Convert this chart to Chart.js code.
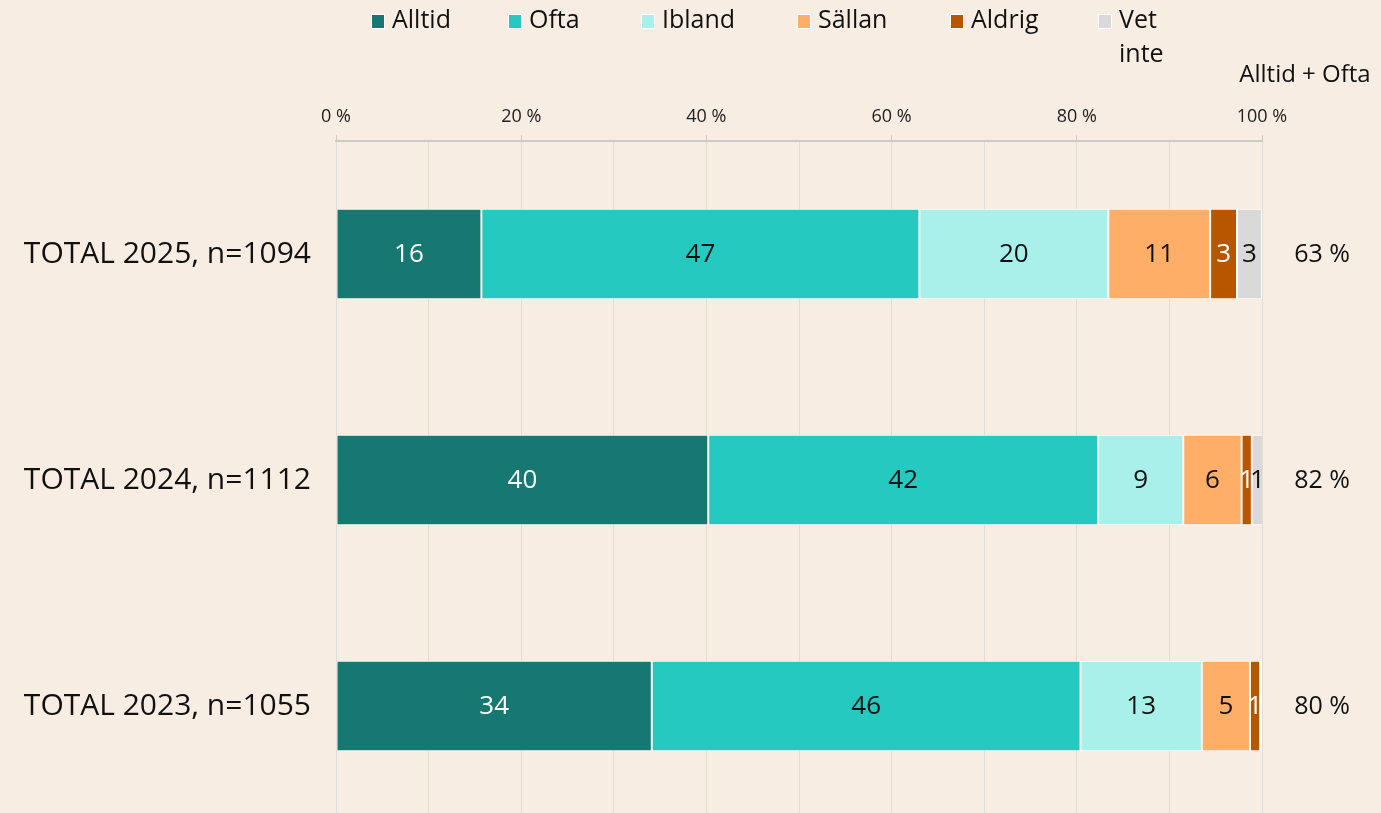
<!DOCTYPE html>
<html><head><meta charset="utf-8">
<script src="https://cdn.jsdelivr.net/npm/chart.js@4/dist/chart.umd.min.js"></script>
<style>html,body{margin:0;padding:0;background:#f8ede3;overflow:hidden}
canvas{display:block}</style></head>
<body><canvas id="c" width="1381" height="819"></canvas>
<script>
const categories = ['TOTAL 2025, n=1094','TOTAL 2024, n=1112','TOTAL 2023, n=1055'];
const seriesNames = ['Alltid','Ofta','Ibland','Sällan','Aldrig','Vet inte'];
const alltid  = [15.7, 40.2, 34.1];
const ofta    = [47.3, 42.1, 46.3];
const ibland  = [20.4, 9.2, 13.1];
const sallan  = [11.0, 6.3, 5.2];
const aldrig  = [2.9, 1.1, 1.1];
const vetInte = [2.7, 1.2, 0.2];
const alltidPlusOfta = [63, 82, 80];
const sumHeader = 'Alltid + Ofta';
const legendLines = [['Alltid'],['Ofta'],['Ibland'],['Sällan'],['Aldrig'],['Vet','inte']];

const FONT = "'Open Sans', sans-serif";
const BG = '#f8ede3';
const colors = ['#167870','#26c9c0','#aaf0ea','#feae66','#b85600','#d9d9d9'];
const labelColors = ['#ffffff','#111111','#111111','#111111','#ffffff','#111111'];
const seriesData = [alltid, ofta, ibland, sallan, aldrig, vetInte];

const datasets = seriesNames.map((n,i)=>({
  label:n, data:seriesData[i], backgroundColor:colors[i],
  borderColor:'#ffffff', borderWidth:1, borderSkipped:false,
  categoryPercentage:1, barPercentage:0.4
}));

const bgPlugin = {id:'bg', beforeDraw(chart){const c=chart.ctx;c.save();c.fillStyle=BG;c.fillRect(0,0,chart.width,chart.height);c.restore();}};

const valuePlugin = {id:'vals', afterDatasetsDraw(chart){
  const c=chart.ctx; c.save();
  c.font = '26px '+FONT; c.textAlign='center'; c.textBaseline='middle';
  chart.data.datasets.forEach((ds,i)=>{
    const meta=chart.getDatasetMeta(i);
    meta.data.forEach((bar,j)=>{
      const v=Math.round(ds.data[j]); if(!v) return;
      c.fillStyle=labelColors[i];
      c.fillText(String(v),(bar.x+bar.base)/2,bar.y+1);
    });
  });
  c.restore();
}};

const legendX = [371, 508, 641, 797, 950, 1098];
const legendPlugin = {id:'leg', afterDraw(chart){
  const c=chart.ctx; c.save();
  c.font='25px '+FONT; c.textBaseline='middle'; c.textAlign='left';
  legendLines.forEach((lines,i)=>{
    const x=legendX[i];
    c.fillStyle=colors[i]; c.fillRect(x,14,14,15);
    c.strokeStyle='#ffffff'; c.lineWidth=1; c.strokeRect(x+0.5,14.5,13,14);
    c.fillStyle='#111';
    lines.forEach((t,k)=>c.fillText(t,x+21,21+k*34));
  });
  c.restore();
}};

const sumPlugin = {id:'sum', afterDraw(chart){
  const c=chart.ctx, ys=chart.scales.y; c.save();
  c.fillStyle='#111'; c.textBaseline='middle'; c.textAlign='center';
  c.font='24px '+FONT;
  c.fillText(sumHeader, 1305, 75);
  c.font='25px '+FONT;
  alltidPlusOfta.forEach((v,j)=>c.fillText(v+' %', 1322, ys.getPixelForValue(j)+1));
  c.restore();
}};

new Chart(document.getElementById('c'), {
  type:'bar',
  data:{labels:categories, datasets},
  options:{
    indexAxis:'y', responsive:false, animation:false,
    layout:{padding:{top:100,right:119,left:0,bottom:0}},
    plugins:{legend:{display:false}, tooltip:{enabled:false}},
    scales:{
      x:{type:'linear', position:'top', stacked:true, min:0, max:100,
        afterFit(s){s.height=41; s.paddingLeft=0; s.paddingRight=0;},
        ticks:{stepSize:10, autoSkip:false, maxRotation:0, padding:7, color:'#222', font:{family:FONT,size:18},
          callback:(v)=> v%20===0 ? v+' %' : ''},
        grid:{color:'#e0dcd6', lineWidth:1, tickLength:6,
          tickColor:(ctx)=> (ctx.tick && ctx.tick.value%20===0) ? '#cfcac4' : 'rgba(0,0,0,0)'},
        border:{display:true, color:'#cfcac4', width:2}
      },
      y:{type:'category', stacked:true,
        afterFit(s){s.width=336; s.paddingTop=0; s.paddingBottom=0;},
        grid:{display:false}, border:{display:false},
        ticks:{padding:17, color:'#111', font:{family:FONT,size:30}}
      }
    }
  },
  plugins:[bgPlugin, valuePlugin, legendPlugin, sumPlugin]
});
</script></body></html>
